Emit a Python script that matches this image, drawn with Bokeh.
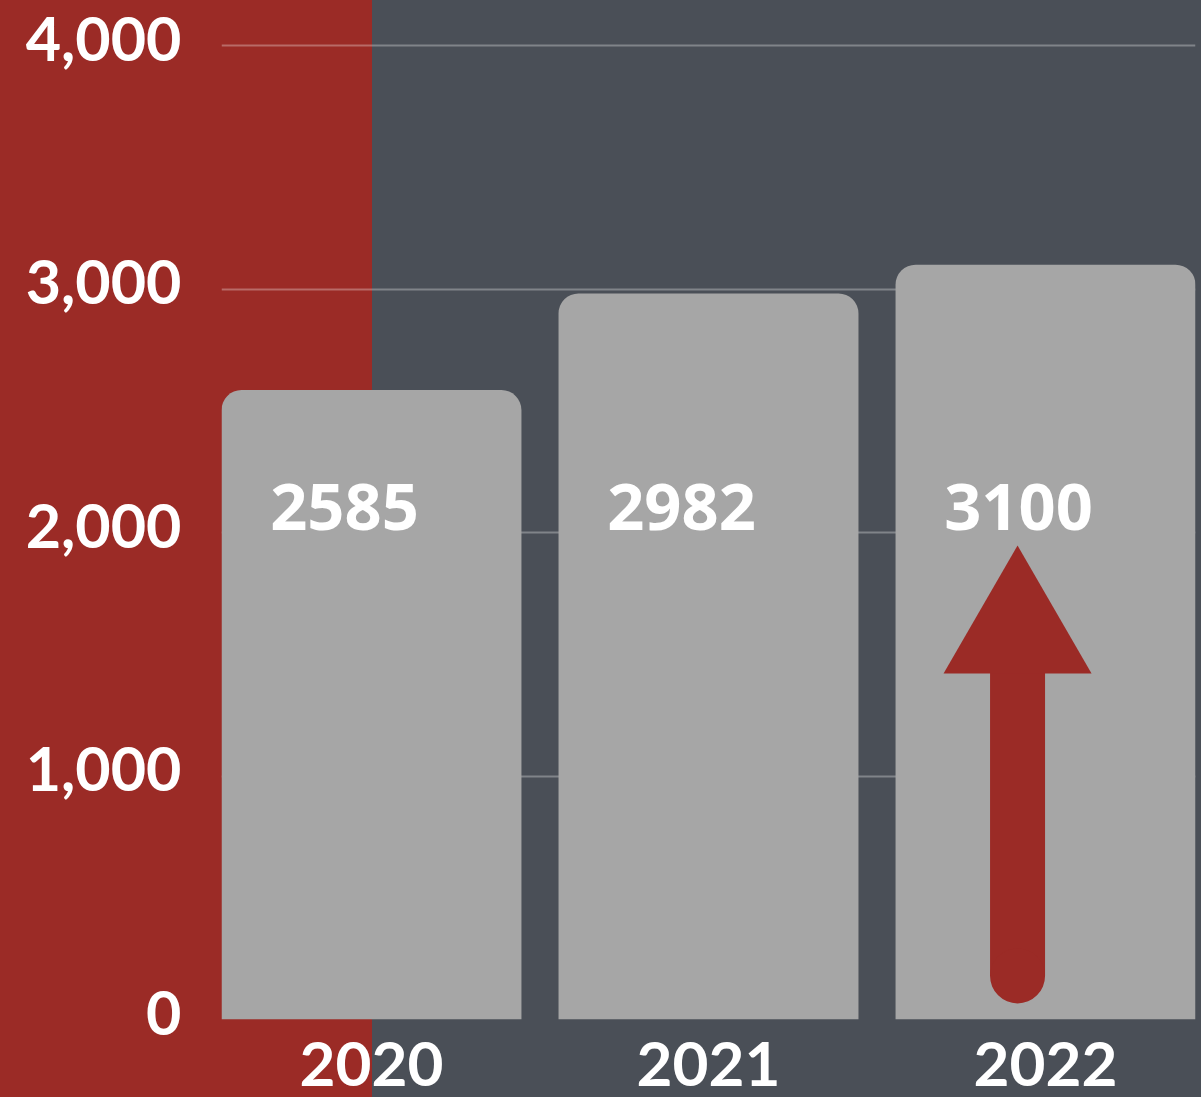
from bokeh.plotting import figure
from bokeh.models import ColumnDataSource, FixedTicker
from bokeh.core.properties import value
from bokeh.embed import file_html
from bokeh.resources import INLINE

years = ["2020", "2021", "2022"]
counts = [2585, 2982, 3100]
y_ticks = [0, 1000, 2000, 3000, 4000]
y_tick_labels = ["0", "1,000", "2,000", "3,000", "4,000"]

RED = "#9b2b26"
DARK = "#4a4f57"
BAR = "#a6a6a6"

xs = list(range(len(years)))
src = ColumnDataSource(dict(x=xs, top=counts, label=[str(c) for c in counts],
                            ly=[2105] * len(counts)))

p = figure(width=1201, height=1097, output_backend="svg", toolbar_location=None,
           x_range=(-0.445, 2.445), y_range=(0, 4185),
           min_border_left=221, min_border_right=6, min_border_top=0, min_border_bottom=78,
           styles={"background": f"linear-gradient(to right, {RED} 0px, {RED} 372px, {DARK} 372px, {DARK} 100%)"})
p.border_fill_color = None
p.background_fill_color = None
p.outline_line_color = None

p.vbar(x="x", top="top", width=0.89, bottom=0, source=src, fill_color=BAR, line_color=None,
       border_radius=(20, 20, 0, 0))

p.text(x="x", y="ly", text="label", source=src, text_color="white",
       text_font=value("Open Sans"), text_font_style="bold", text_font_size="65px",
       text_align="center", text_baseline="alphabetic", x_offset=-27)

# growth arrow on the latest bar
arrow_x = 1.917
arrow_y0 = 179
arrow_head_y = 1596
p.segment(x0=[arrow_x], y0=[arrow_y0], x1=[arrow_x], y1=[arrow_head_y],
          line_color=RED, line_width=55, line_cap="butt")
p.scatter(x=[arrow_x], y=[arrow_y0], size=55, marker="circle", fill_color=RED, line_color=None)
p.scatter(x=[arrow_x], y=[arrow_head_y], size=148, marker="triangle", fill_color=RED, line_color=None)

# axes
label_lift = 28  # labels sit slightly above their grid lines
p.yaxis.ticker = FixedTicker(ticks=[t + label_lift for t in y_ticks])
p.yaxis.major_label_overrides = {t + label_lift: l for t, l in zip(y_ticks, y_tick_labels)}
p.xaxis.ticker = FixedTicker(ticks=xs)
p.xaxis.major_label_overrides = {i: y for i, y in zip(xs, years)}
for ax in (p.xaxis[0], p.yaxis[0]):
    ax.axis_line_color = None
    ax.major_tick_line_color = None
    ax.minor_tick_line_color = None
    ax.major_label_text_color = "white"
    ax.major_label_text_font = "Lato"
    ax.major_label_text_font_style = "bold"
p.xaxis.major_label_text_font_size = "62px"
p.yaxis.major_label_text_font_size = "61px"
p.yaxis.major_label_standoff = 34
p.xaxis.major_label_standoff = 16

p.xgrid.grid_line_color = None
p.ygrid.ticker = FixedTicker(ticks=y_ticks[1:])
p.ygrid.grid_line_color = "white"
p.ygrid.grid_line_alpha = 0.3
p.ygrid.grid_line_width = 2

open("out.html", "w").write(file_html(p, INLINE))
